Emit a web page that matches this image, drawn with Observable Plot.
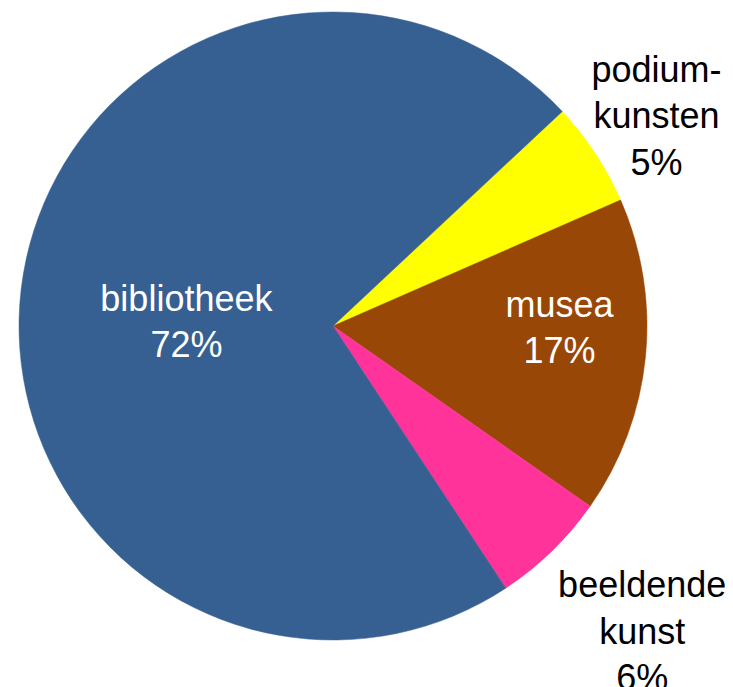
<!DOCTYPE html>
<html><head><meta charset="utf-8">
<script src="https://cdn.jsdelivr.net/npm/d3@7"></script>
<script src="https://cdn.jsdelivr.net/npm/@observablehq/plot@0.6"></script>
<style>html,body{margin:0;padding:0;background:#fff}</style>
</head><body><div id="chart"></div>
<script>
// ---- data (shares) ----
const categories = ["podium-\nkunsten", "musea", "beeldende\nkunst", "bibliotheek"];
const shares = [5.4, 16.3, 6.0, 72.3];
const shareLabels = ["5%", "17%", "6%", "72%"];

// ---- styles / layout ----
const colors = ["#FFFF00", "#994706", "#FF3399", "#366092"];
const textColors = ["#000", "#fff", "#000", "#fff"];
const labelPolar = [[56.6, 1.232], [89.7, 0.72], [134.4, 1.376], [272.8, 0.469]]; // [deg, r factor]
const W = 733, H = 687, CX = 333, CY = 326, R = 314, START = 46.9;

const arcs = d3.pie().sort(null)
  .startAngle(START * Math.PI / 180)
  .endAngle(START * Math.PI / 180 + 2 * Math.PI)(shares);

const rows = categories.map((c, i) => {
  const [deg, k] = labelPolar[i];
  const t = deg * Math.PI / 180;
  return {
    category: c, share: shares[i], arc: arcs[i],
    fill: colors[i], textFill: textColors[i],
    text: c + "\n" + shareLabels[i],
    lx: CX + Math.sin(t) * R * k,
    ly: CY - Math.cos(t) * R * k
  };
});

function pieMark(index, scales) {
  const sx = scales.x || (v => v), sy = scales.y || (v => v);
  const cx = sx(CX), cy = sy(CY), r = sx(CX + R) - sx(CX);
  const arc = d3.arc().innerRadius(0).outerRadius(r);
  const g = d3.create("svg:g").attr("transform", `translate(${cx},${cy})`);
  g.selectAll("path").data(rows).join("path")
    .attr("d", d => arc(d.arc))
    .attr("fill", d => d.fill)
    .attr("stroke", d => d.fill)
    .attr("stroke-width", 0.5);
  return g.node();
}

const chart = Plot.plot({
  width: W, height: H,
  margin: 0,
  style: {background: "#fff", fontFamily: "'Liberation Sans', Arial, sans-serif"},
  x: {domain: [0, W], range: [0, W], axis: null},
  y: {domain: [0, H], range: [0, H], axis: null},
  marks: [
    pieMark,
    Plot.text(rows, {
      x: "lx", y: "ly", text: "text",
      fill: "textFill",
      fontSize: 36, lineHeight: 1.29,
      textAnchor: "middle", lineAnchor: "middle",
      fontFamily: "'Liberation Sans', Arial, sans-serif"
    })
  ]
});
document.getElementById("chart").appendChild(chart);
</script>
</body></html>
